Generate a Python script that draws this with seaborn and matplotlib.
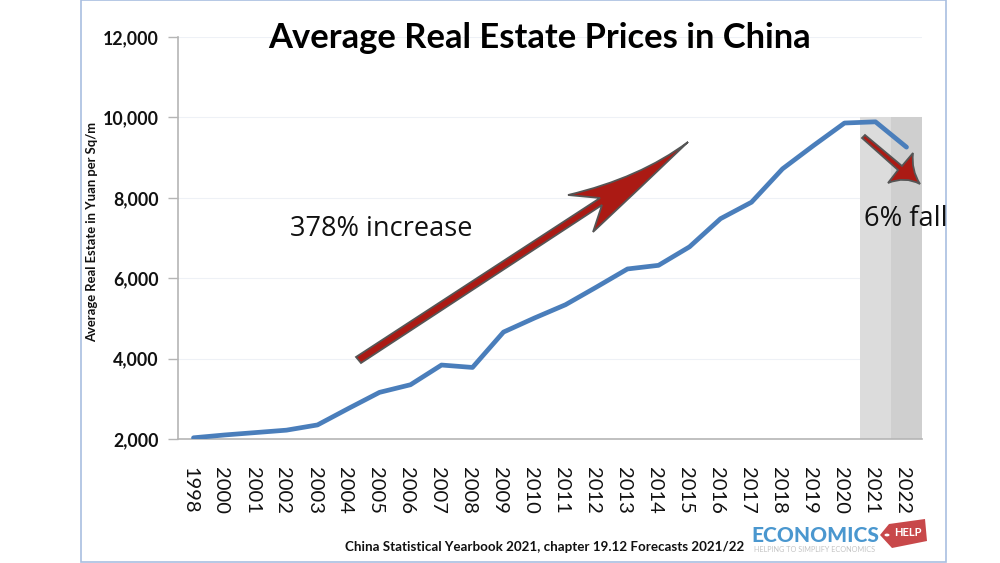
import matplotlib
matplotlib.use("Agg")
import matplotlib.pyplot as plt
import seaborn as sns
import pandas as pd
from matplotlib.patches import Rectangle, PathPatch, Polygon, Circle
from matplotlib.path import Path
from matplotlib.ticker import FuncFormatter
from matplotlib.transforms import ScaledTranslation

years = ["1998","2000","2001","2002","2003","2004","2005","2006","2007","2008","2009","2010",
         "2011","2012","2013","2014","2015","2016","2017","2018","2019","2020","2021","2022"]
prices = [2030,2100,2160,2220,2350,2760,3160,3350,3840,3780,4660,5010,
          5340,5780,6230,6320,6780,7480,7890,8720,9300,9860,9890,9260]
forecast_years = ["2021","2022"]
forecast_top = [10000,10000]
forecast_colors = ["#dcdcdc","#cfcfcf"]
yticks = [2000,4000,6000,8000,10000,12000]

sns.set_theme(style="white")
plt.rcParams['font.family'] = ['Lato','DejaVu Sans']

W,H = 1000,563
fig = plt.figure(figsize=(W/100,H/100),dpi=100,facecolor="white")
ax = fig.add_axes([178/W,1-439/H,744/W,402/H])
ax.patch.set_alpha(0)

def px(x,y):
    return (x/W,1-y/H)

fig.add_artist(Rectangle(px(80.5,562),865/W,562/H,transform=fig.transFigure,fill=False,ec="#a9bfe0",lw=1.2))

df = pd.DataFrame({"year":years,"price":prices})
shade = pd.DataFrame({"year":forecast_years,"top":forecast_top})
sns.barplot(data=shade,x="year",y="top",order=years,hue="year",hue_order=forecast_years,
            palette=forecast_colors,width=1.0,legend=False,ax=ax,saturation=1,zorder=1,linewidth=0,edgecolor="none")
sns.lineplot(data=df,x="year",y="price",color="#4a7ebb",lw=3.4,ax=ax,zorder=3,solid_capstyle="round",errorbar=None)

ax.set_xlim(-0.5,len(years)-0.5)
ax.set_ylim(2000,12000)
ax.set_yticks(yticks)
ax.yaxis.set_major_formatter(FuncFormatter(lambda v,p:f"{int(v):,}"))
ax.grid(axis="y",color="#eef1f6",lw=0.8)
ax.set_axisbelow(True)
for s in ["top","right"]:
    ax.spines[s].set_visible(False)
for s in ["left","bottom"]:
    ax.spines[s].set_color("#b5b5b5")
    ax.spines[s].set_linewidth(1.2)
ax.tick_params(axis="y",length=7,color="#b5b5b5",width=1,pad=7,left=True,labelsize=12.8)
ax.tick_params(axis="x",length=0,pad=20,labelsize=14.5,labelcolor="#111111")
for t in ax.get_yticklabels():
    t.set_fontweight("bold"); t.set_color("#111111")
shift = ScaledTranslation(-3.5/100,0,fig.dpi_scale_trans)
for t in ax.get_xticklabels():
    t.set_rotation(270); t.set_va("top"); t.set_ha("center")
    t.set_transform(t.get_transform()+shift)
ax.set_xlabel("")
ax.set_ylabel("")

def T(x,y,s,**k):
    fig.text(x/W,1-y/H,s,**k)

T(540,38,"Average Real Estate Prices in China",ha="center",va="center",fontsize=24.8,fontweight="bold",color="black")
T(92,232,"Average Real Estate in Yuan per Sq/m",rotation=90,ha="center",va="center",fontsize=9.4,fontweight="bold",color="#111111")
T(381,229,"378% increase",ha="center",va="center",fontsize=19.5,color="#111111",family=["Open Sans","DejaVu Sans"])
T(906,219,"6% fall",ha="center",va="center",fontsize=19.6,color="#111111",family=["Open Sans","DejaVu Sans"])
T(345,547,"China Statistical Yearbook 2021, chapter 19.12 Forecasts 2021/22",ha="left",va="center",fontsize=9.6,fontweight="bold",color="#111111")

def arrow(pts):
    codes=[Path.MOVETO,Path.LINETO,Path.LINETO,Path.CURVE3,Path.CURVE3,Path.CURVE3,Path.CURVE3,Path.LINETO,Path.LINETO,Path.CLOSEPOLY]
    v=[px(*p) for p in pts]
    fig.add_artist(PathPatch(Path(v,codes),transform=fig.transFigure,fc="#ab1a14",ec="#555555",lw=1.3,zorder=5,joinstyle="miter"))

arrow([(356,357),(600,198),(568,195),(640,178),(688,142),(640,188),(593,232),(602,205),(361,363),(356,357)])
arrow([(862,138),(898,170),(888,183),(905,176),(920,184),(911,170),(913,153),(902,166),(865,135),(862,138)])

# logo
T(815,535,"ECONOMICS",ha="center",va="center",fontsize=15,fontweight="black",color="#4a97cf")
T(815,550,"HELPING TO SIMPLIFY ECONOMICS",ha="center",va="center",fontsize=5.2,color="#c4c4c4")
fig.add_artist(Polygon([px(880,535),px(889,524),px(925,519),px(927,541),px(892,548)],closed=True,transform=fig.transFigure,fc="#c8484a",ec="none"))
T(908,533,"HELP",ha="center",va="center",fontsize=8,fontweight="bold",color="white",zorder=6)
fig.add_artist(Circle(px(887,535),0.0025,transform=fig.transFigure,fc="white",ec="none",zorder=6))

fig.savefig("out.png",dpi=100)
